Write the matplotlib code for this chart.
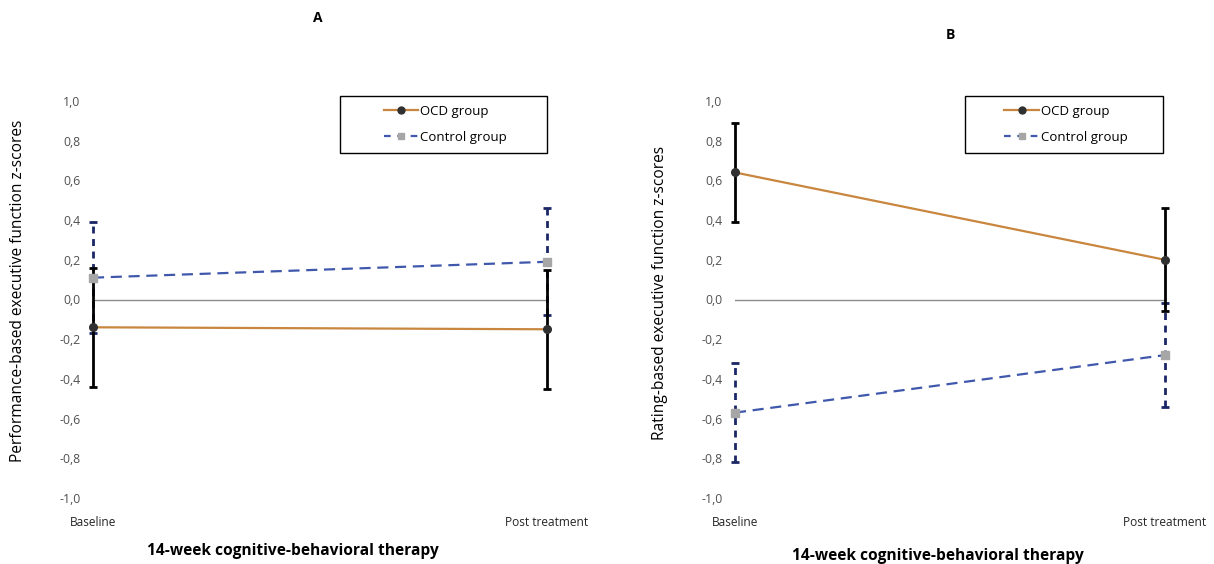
import matplotlib.pyplot as plt
from matplotlib.lines import Line2D
from matplotlib.patches import Rectangle

plt.rcParams['font.family'] = ['Open Sans', 'DejaVu Sans']

# data
phases = ['Baseline', 'Post treatment']
groups = ['OCD group', 'Control group']
yticks = [-1.0, -0.8, -0.6, -0.4, -0.2, 0.0, 0.2, 0.4, 0.6, 0.8, 1.0]

ocd_a = [-0.14, -0.15]
ocd_a_err = [0.30, 0.30]
ctrl_a = [0.11, 0.19]
ctrl_a_err = [0.28, 0.27]

ocd_b = [0.64, 0.20]
ocd_b_err = [0.25, 0.26]
ctrl_b = [-0.57, -0.28]
ctrl_b_err = [0.25, 0.26]

ocd_col = '#C8863E'
ctrl_col = '#4058AC'
err_ctrl = '#1C2766'

W, H = 1214, 564
fig = plt.figure(figsize=(W / 100, H / 100), dpi=100)
ax_a = fig.add_axes([93 / W, 66 / H, 454 / W, 397 / H])
ax_b = fig.add_axes([735 / W, 66 / H, 430 / W, 397 / H])


def panel(ax, ocd, ocd_err, ctrl, ctrl_err):
    x = [0, 1]
    ax.axhline(0, color='#8c8c8c', lw=1, zorder=1)
    eb = ax.errorbar(x, ctrl, yerr=ctrl_err, fmt='none', ecolor=err_ctrl,
                     elinewidth=2, capsize=3, capthick=2, zorder=2)
    for c in eb[2]:
        c.set_linestyle((0, (2.5, 2)))
        c.set_clip_on(False)
    for c in eb[1]:
        c.set_clip_on(False)
    eb = ax.errorbar(x, ocd, yerr=ocd_err, fmt='none', ecolor='black',
                     elinewidth=2, capsize=3, capthick=2, zorder=3)
    for c in list(eb[1]) + list(eb[2]):
        c.set_clip_on(False)
    ax.plot(x, ocd, color=ocd_col, lw=1.6, marker='o', ms=5.5,
            mfc='#303030', mec='#303030', zorder=4, clip_on=False)
    ax.plot(x, ctrl, color=ctrl_col, lw=1.6, ls=(0, (5, 3)), marker='s', ms=5.5,
            mfc='#a6a6a6', mec='#a6a6a6', zorder=4, clip_on=False)
    ax.set_xlim(0, 1)
    ax.set_ylim(-1, 1)
    ax.set_yticks(yticks)
    ax.set_yticklabels([f'{v:.1f}'.replace('.', ',') for v in yticks],
                       fontsize=8.8, color='#505050')
    ax.set_xticks([0, 1])
    ax.set_xticklabels(phases, fontsize=8.6, color='#262626')
    ax.tick_params(length=0)
    ax.tick_params(axis='y', pad=9)
    ax.tick_params(axis='x', pad=13)
    for s in ax.spines.values():
        s.set_visible(False)


def legend_box(x0, x1, y0, y1):
    fig.add_artist(Rectangle((x0 / W, 1 - y1 / H), (x1 - x0) / W, (y1 - y0) / H,
                             transform=fig.transFigure, fill=False,
                             edgecolor='black', lw=1))
    handles = [
        Line2D([], [], color=ocd_col, lw=1.6, marker='o', ms=5,
               mfc='#303030', mec='#303030'),
        Line2D([], [], color=ctrl_col, lw=1.6, ls=(0, (3, 3)), marker='s', ms=5,
               mfc='#a6a6a6', mec='#a6a6a6'),
    ]
    fig.legend(handles, groups, loc='center',
               bbox_to_anchor=((x0 + x1) / 2 / W + 2 / W, 1 - (y0 + y1) / 2 / H),
               bbox_transform=fig.transFigure, frameon=False, fontsize=9.5,
               handlelength=2.6, handletextpad=0.15, labelspacing=1.0,
               borderpad=0)


panel(ax_a, ocd_a, ocd_a_err, ctrl_a, ctrl_a_err)
panel(ax_b, ocd_b, ocd_b_err, ctrl_b, ctrl_b_err)
legend_box(340, 547, 96, 153)
legend_box(965, 1163, 96, 153)

fig.text(318 / W, 1 - 18 / H, 'A', ha='center', va='center',
         fontsize=10, fontweight='bold')
fig.text(950 / W, 1 - 35 / H, 'B', ha='center', va='center',
         fontsize=10, fontweight='bold')

fig.text(293 / W, 1 - 551 / H, '14-week cognitive-behavioral therapy',
         ha='center', va='center', fontsize=11.2, fontweight='bold')
fig.text(938 / W, 1 - 556 / H, '14-week cognitive-behavioral therapy',
         ha='center', va='center', fontsize=11.2, fontweight='bold')

fig.text(18 / W, 1 - 291 / H, 'Performance-based executive function z-scores',
         ha='center', va='center', rotation=90, fontsize=11.2)
fig.text(660 / W, 1 - 293 / H, 'Rating-based executive function z-scores',
         ha='center', va='center', rotation=90, fontsize=11.2)

fig.savefig('out.png', dpi=100, facecolor='white')
